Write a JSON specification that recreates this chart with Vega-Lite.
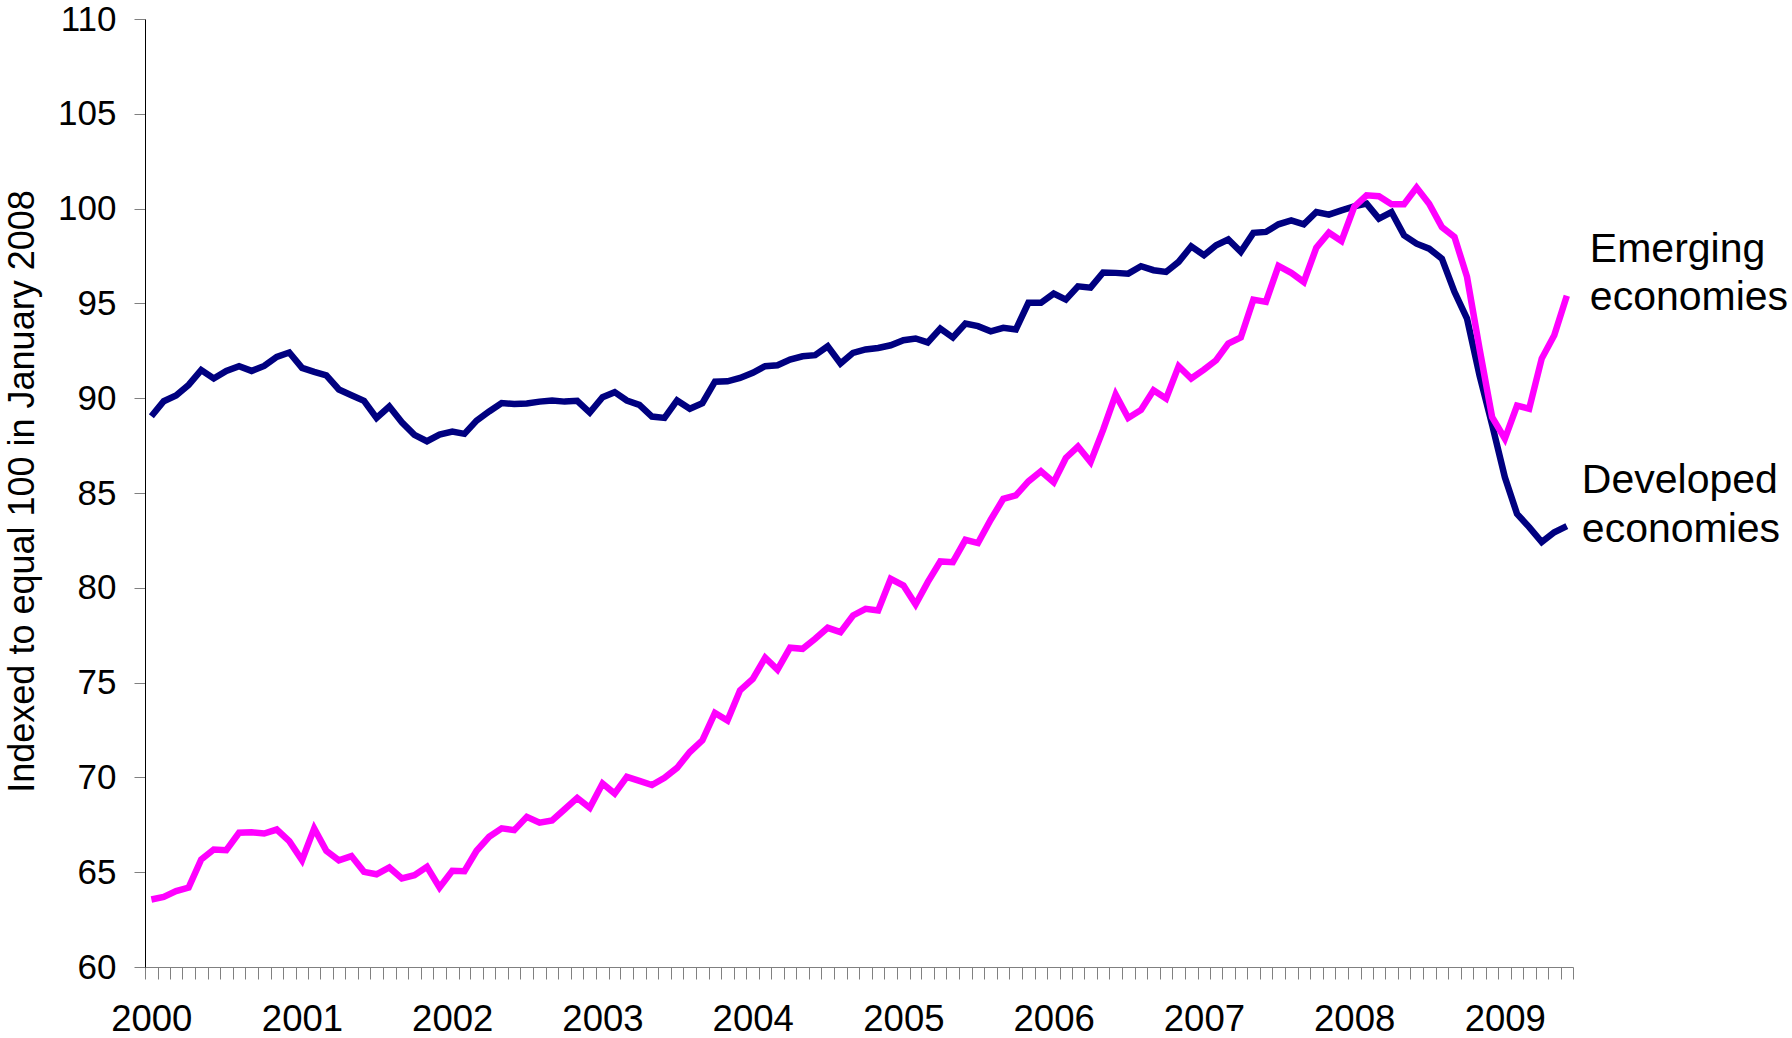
{
  "$schema": "https://vega.github.io/schema/vega-lite/v6.json",
  "width": 1428,
  "height": 948,
  "autosize": {"type": "none"},
  "padding": {"left": 145, "top": 19, "right": 219, "bottom": 71},
  "background": "white",
  "config": {"view": {"stroke": null}, "font": "Liberation Sans"},
  "data": {"values": [
    {"date":"2000-01","developed":89.05,"emerging":63.56},
    {"date":"2000-02","developed":89.84,"emerging":63.70},
    {"date":"2000-03","developed":90.14,"emerging":64.00},
    {"date":"2000-04","developed":90.70,"emerging":64.19},
    {"date":"2000-05","developed":91.48,"emerging":65.67},
    {"date":"2000-06","developed":91.04,"emerging":66.20},
    {"date":"2000-07","developed":91.44,"emerging":66.16},
    {"date":"2000-08","developed":91.69,"emerging":67.08},
    {"date":"2000-09","developed":91.44,"emerging":67.11},
    {"date":"2000-10","developed":91.70,"emerging":67.04},
    {"date":"2000-11","developed":92.18,"emerging":67.25},
    {"date":"2000-12","developed":92.41,"emerging":66.64},
    {"date":"2001-01","developed":91.60,"emerging":65.63},
    {"date":"2001-02","developed":91.39,"emerging":67.31},
    {"date":"2001-03","developed":91.21,"emerging":66.13},
    {"date":"2001-04","developed":90.46,"emerging":65.63},
    {"date":"2001-05","developed":90.16,"emerging":65.85},
    {"date":"2001-06","developed":89.86,"emerging":65.02},
    {"date":"2001-07","developed":88.96,"emerging":64.89},
    {"date":"2001-08","developed":89.56,"emerging":65.25},
    {"date":"2001-09","developed":88.73,"emerging":64.67},
    {"date":"2001-10","developed":88.07,"emerging":64.84},
    {"date":"2001-11","developed":87.73,"emerging":65.28},
    {"date":"2001-12","developed":88.08,"emerging":64.19},
    {"date":"2002-01","developed":88.24,"emerging":65.07},
    {"date":"2002-02","developed":88.12,"emerging":65.05},
    {"date":"2002-03","developed":88.82,"emerging":66.13},
    {"date":"2002-04","developed":89.30,"emerging":66.87},
    {"date":"2002-05","developed":89.74,"emerging":67.31},
    {"date":"2002-06","developed":89.70,"emerging":67.22},
    {"date":"2002-07","developed":89.72,"emerging":67.92},
    {"date":"2002-08","developed":89.82,"emerging":67.61},
    {"date":"2002-09","developed":89.88,"emerging":67.73},
    {"date":"2002-10","developed":89.82,"emerging":68.32},
    {"date":"2002-11","developed":89.86,"emerging":68.92},
    {"date":"2002-12","developed":89.24,"emerging":68.40},
    {"date":"2003-01","developed":90.05,"emerging":69.68},
    {"date":"2003-02","developed":90.32,"emerging":69.15},
    {"date":"2003-03","developed":89.88,"emerging":70.03},
    {"date":"2003-04","developed":89.65,"emerging":69.82},
    {"date":"2003-05","developed":89.03,"emerging":69.60},
    {"date":"2003-06","developed":88.96,"emerging":69.98},
    {"date":"2003-07","developed":89.88,"emerging":70.50},
    {"date":"2003-08","developed":89.44,"emerging":71.34},
    {"date":"2003-09","developed":89.74,"emerging":71.95},
    {"date":"2003-10","developed":90.87,"emerging":73.40},
    {"date":"2003-11","developed":90.89,"emerging":73.00},
    {"date":"2003-12","developed":91.07,"emerging":74.59},
    {"date":"2004-01","developed":91.34,"emerging":75.20},
    {"date":"2004-02","developed":91.69,"emerging":76.31},
    {"date":"2004-03","developed":91.74,"emerging":75.68},
    {"date":"2004-04","developed":92.04,"emerging":76.84},
    {"date":"2004-05","developed":92.21,"emerging":76.78},
    {"date":"2004-06","developed":92.27,"emerging":77.31},
    {"date":"2004-07","developed":92.74,"emerging":77.89},
    {"date":"2004-08","developed":91.83,"emerging":77.66},
    {"date":"2004-09","developed":92.39,"emerging":78.54},
    {"date":"2004-10","developed":92.57,"emerging":78.89},
    {"date":"2004-11","developed":92.65,"emerging":78.80},
    {"date":"2004-12","developed":92.79,"emerging":80.47},
    {"date":"2005-01","developed":93.06,"emerging":80.12},
    {"date":"2005-02","developed":93.15,"emerging":79.12},
    {"date":"2005-03","developed":92.94,"emerging":80.30},
    {"date":"2005-04","developed":93.67,"emerging":81.39},
    {"date":"2005-05","developed":93.20,"emerging":81.35},
    {"date":"2005-06","developed":93.94,"emerging":82.53},
    {"date":"2005-07","developed":93.80,"emerging":82.36},
    {"date":"2005-08","developed":93.53,"emerging":83.59},
    {"date":"2005-09","developed":93.71,"emerging":84.69},
    {"date":"2005-10","developed":93.62,"emerging":84.87},
    {"date":"2005-11","developed":95.03,"emerging":85.61},
    {"date":"2005-12","developed":95.03,"emerging":86.15},
    {"date":"2006-01","developed":95.52,"emerging":85.57},
    {"date":"2006-02","developed":95.20,"emerging":86.85},
    {"date":"2006-03","developed":95.90,"emerging":87.45},
    {"date":"2006-04","developed":95.83,"emerging":86.63},
    {"date":"2006-05","developed":96.63,"emerging":88.33},
    {"date":"2006-06","developed":96.61,"emerging":90.19},
    {"date":"2006-07","developed":96.57,"emerging":88.96},
    {"date":"2006-08","developed":96.96,"emerging":89.38},
    {"date":"2006-09","developed":96.75,"emerging":90.42},
    {"date":"2006-10","developed":96.66,"emerging":89.98},
    {"date":"2006-11","developed":97.19,"emerging":91.69},
    {"date":"2006-12","developed":98.01,"emerging":91.04},
    {"date":"2007-01","developed":97.54,"emerging":91.51},
    {"date":"2007-02","developed":98.07,"emerging":92.00},
    {"date":"2007-03","developed":98.37,"emerging":92.88},
    {"date":"2007-04","developed":97.72,"emerging":93.20},
    {"date":"2007-05","developed":98.72,"emerging":95.20},
    {"date":"2007-06","developed":98.77,"emerging":95.08},
    {"date":"2007-07","developed":99.17,"emerging":96.98},
    {"date":"2007-08","developed":99.38,"emerging":96.61},
    {"date":"2007-09","developed":99.17,"emerging":96.13},
    {"date":"2007-10","developed":99.82,"emerging":97.94},
    {"date":"2007-11","developed":99.68,"emerging":98.73},
    {"date":"2007-12","developed":99.91,"emerging":98.29},
    {"date":"2008-01","developed":100.12,"emerging":100.09},
    {"date":"2008-02","developed":100.26,"emerging":100.70},
    {"date":"2008-03","developed":99.47,"emerging":100.65},
    {"date":"2008-04","developed":99.82,"emerging":100.23},
    {"date":"2008-05","developed":98.59,"emerging":100.23},
    {"date":"2008-06","developed":98.15,"emerging":101.11},
    {"date":"2008-07","developed":97.89,"emerging":100.26},
    {"date":"2008-08","developed":97.36,"emerging":99.03},
    {"date":"2008-09","developed":95.61,"emerging":98.51},
    {"date":"2008-10","developed":94.20,"emerging":96.40},
    {"date":"2008-11","developed":91.20,"emerging":92.60},
    {"date":"2008-12","developed":88.60,"emerging":89.00},
    {"date":"2009-01","developed":85.83,"emerging":87.86},
    {"date":"2009-02","developed":83.90,"emerging":89.61},
    {"date":"2009-03","developed":83.20,"emerging":89.44},
    {"date":"2009-04","developed":82.41,"emerging":92.09},
    {"date":"2009-05","developed":82.93,"emerging":93.32},
    {"date":"2009-06","developed":83.25,"emerging":95.40}
  ]},
  "transform": [{"fold": ["developed", "emerging"], "as": ["series", "value"]}],
  "encoding": {
    "x": {
      "field": "date", "type": "temporal", "timeUnit": "utcyearmonth", "bandPosition": 0.5,
      "scale": {"type": "utc", "nice": false, "domain": [{"year": 2000, "month": 1, "date": 1, "utc": true}, {"year": 2009, "month": 7, "date": 1, "utc": true}]},
      "axis": {
        "title": null, "grid": false,
        "tickCount": {"interval": "month", "step": 1},
        "labelExpr": "utcmonth(datum.value) == 0 ? utcFormat(datum.value, '%Y') : ''",
        "labelOffset": 6.3, "labelFontSize": 36.5, "labelColor": "#000", "labelFont": "Liberation Sans",
        "labelBaseline": "alphabetic", "labelAlign": "center", "labelPadding": 51, "tickSize": 12,
        "tickColor": "#808080", "tickWidth": 1, "domainColor": "#808080", "domainWidth": 1,
        "labelOverlap": false, "labelFlush": false, "labelBound": false
      }
    },
    "y": {
      "field": "value", "type": "quantitative",
      "scale": {"domain": [60, 110], "nice": false, "zero": false},
      "axis": {
        "title": "Indexed to equal 100 in January 2008", "grid": false,
        "values": [60, 65, 70, 75, 80, 85, 90, 95, 100, 105, 110],
        "labelFontSize": 35, "labelColor": "#000", "labelFont": "Liberation Sans", "labelPadding": 18, "tickSize": 11,
        "tickColor": "#808080", "tickWidth": 1, "domainColor": "#000", "domainWidth": 1,
        "titleFontSize": 36, "titleFontWeight": "normal", "titleColor": "#000", "titleFont": "Liberation Sans",
        "titleX": -112, "titleY": 472, "titleBaseline": "alphabetic", "titleAngle": 270
      }
    }
  },
  "layer": [
    {
      "mark": {"type": "line", "strokeWidth": 6.5},
      "encoding": {
        "color": {"field": "series", "type": "nominal", "scale": {"domain": ["developed", "emerging"], "range": ["#000080", "#FF00FF"]}, "legend": null}
      }
    },
    {
      "transform": [
        {"filter": "datum.series == 'emerging'"},
        {"window": [{"op": "row_number", "as": "rn"}], "sort": [{"field": "date", "order": "descending"}]},
        {"filter": "datum.rn == 1"}
      ],
      "mark": {"type": "text", "text": "Emerging economies", "lineBreak": " ", "lineHeight": 48.5, "fontSize": 41, "font": "Liberation Sans", "align": "left", "baseline": "alphabetic", "dx": 23, "dy": -34, "color": "#000"}
    },
    {
      "transform": [
        {"filter": "datum.series == 'developed'"},
        {"window": [{"op": "row_number", "as": "rn"}], "sort": [{"field": "date", "order": "descending"}]},
        {"filter": "datum.rn == 1"}
      ],
      "mark": {"type": "text", "text": "Developed economies", "lineBreak": " ", "lineHeight": 48.5, "fontSize": 41, "font": "Liberation Sans", "align": "left", "baseline": "alphabetic", "dx": 15, "dy": -33, "color": "#000"}
    }
  ]
}
